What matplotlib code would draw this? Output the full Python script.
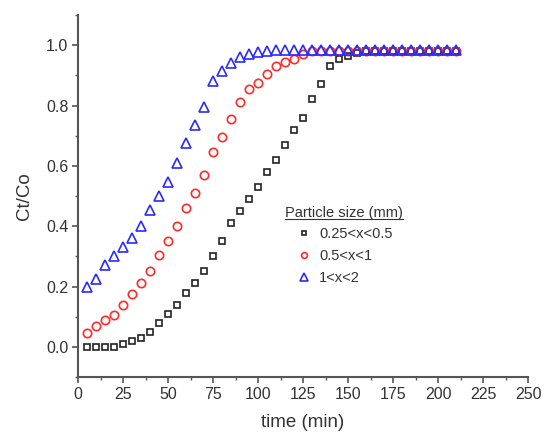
import matplotlib
matplotlib.use("Agg")
import matplotlib.pyplot as plt
from matplotlib.ticker import MultipleLocator

plt.rcParams['font.family'] = ['Liberation Sans', 'DejaVu Sans']

# breakthrough data, sampled every 5 min
time = list(range(5, 215, 5))

ct_small = [0.0, 0.0, 0.0, 0.0, 0.01, 0.02, 0.03, 0.05, 0.08, 0.11,
            0.14, 0.18, 0.21, 0.25, 0.30, 0.35, 0.41, 0.45, 0.49, 0.53,
            0.58, 0.62, 0.67, 0.72, 0.76, 0.82, 0.87, 0.93, 0.955, 0.965,
            0.975, 0.98, 0.98, 0.98, 0.98, 0.98, 0.98, 0.98, 0.98, 0.98,
            0.98, 0.98]
ct_medium = [0.045, 0.07, 0.09, 0.105, 0.14, 0.175, 0.21, 0.25, 0.305, 0.35,
             0.40, 0.46, 0.51, 0.57, 0.645, 0.695, 0.755, 0.81, 0.855, 0.875,
             0.905, 0.93, 0.945, 0.955, 0.97, 0.98, 0.98, 0.98, 0.98, 0.98,
             0.98, 0.98, 0.98, 0.98, 0.98, 0.98, 0.98, 0.98, 0.98, 0.98,
             0.98, 0.98]
ct_large = [0.20, 0.225, 0.27, 0.30, 0.33, 0.36, 0.40, 0.455, 0.50, 0.545,
            0.61, 0.675, 0.735, 0.795, 0.88, 0.915, 0.94, 0.96, 0.97, 0.978,
            0.982, 0.985, 0.985, 0.985, 0.985, 0.985, 0.985, 0.985, 0.985, 0.985,
            0.985, 0.985, 0.985, 0.985, 0.985, 0.985, 0.985, 0.985, 0.985, 0.985,
            0.985, 0.985]

labels = ['0.25<x<0.5', '0.5<x<1', '1<x<2']

fig = plt.figure(figsize=(5.44, 4.36), dpi=100)
ax = fig.add_axes([0.1434, 0.1353, 0.8272, 0.8303])

ax.plot(time, ct_small, 's', ms=5, mfc='none', mec='#222222', mew=1.2, label=labels[0])
ax.plot(time, ct_medium, 'o', ms=6, mfc='none', mec='#ff2a2a', mew=1.2, label=labels[1])
ax.plot(time, ct_large, '^', ms=7.5, mfc='none', mec='#2a2aff', mew=1.2, label=labels[2])

ax.set_xlim(0, 250)
ax.set_ylim(-0.1, 1.1)
ax.xaxis.set_major_locator(MultipleLocator(25))
ax.xaxis.set_minor_locator(MultipleLocator(12.5))
ax.yaxis.set_major_locator(MultipleLocator(0.2))
ax.yaxis.set_minor_locator(MultipleLocator(0.1))
ax.yaxis.set_major_formatter(matplotlib.ticker.FormatStrFormatter('%.1f'))

for side in ['top', 'right']:
    ax.spines[side].set_visible(False)
for side in ['left', 'bottom']:
    ax.spines[side].set_color('#555555')
    ax.spines[side].set_linewidth(1.5)

ax.tick_params(which='major', direction='out', length=4, width=1.2, color='#555555',
               labelsize=11.5, labelcolor='#333333', pad=3)
ax.tick_params(which='minor', direction='out', length=2.5, width=1.0, color='#555555')

ax.set_xlabel('time (min)', fontsize=13.5, color='#333333', labelpad=9)
ax.set_ylabel('Ct/Co', fontsize=13.5, color='#333333', labelpad=9)

leg = ax.legend(loc='upper left', bbox_to_anchor=(0.487, 0.414), frameon=False,
                fontsize=10.5, handlelength=1.0, handletextpad=0.5, labelspacing=0.55,
                borderpad=0, borderaxespad=0, markerscale=0.7)
for t in leg.get_texts():
    t.set_color('#333333')

# legend heading with an underline
title = ax.text(0.46, 0.453, 'Particle size (mm)', transform=ax.transAxes,
                fontsize=10.5, color='#333333', ha='left', va='center')
fig.canvas.draw()
bb = title.get_window_extent().transformed(ax.transAxes.inverted())
ax.plot([bb.x0, bb.x1], [bb.y0 + 0.002, bb.y0 + 0.002], transform=ax.transAxes,
        color='#333333', lw=0.8, clip_on=False)

fig.savefig('out.png', dpi=100)
